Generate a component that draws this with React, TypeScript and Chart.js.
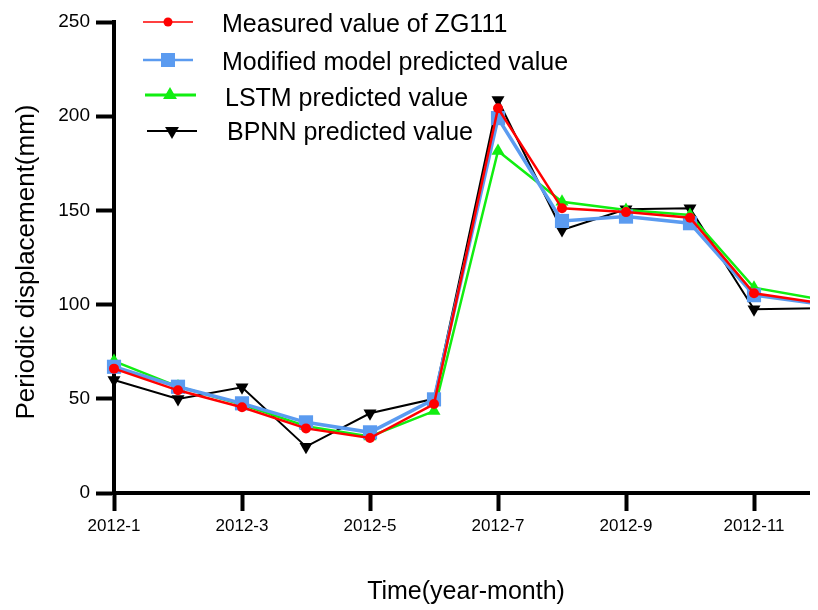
import React, { useEffect, useRef } from 'react';
import { Chart, registerables } from 'chart.js';

Chart.register(...registerables);

const months = ['2012-1', '2012-2', '2012-3', '2012-4', '2012-5', '2012-6', '2012-7', '2012-8', '2012-9', '2012-10', '2012-11', '2012-12'];
const measured = [66, 54.5, 45.5, 34.3, 29.2, 47.2, 204.2, 151.1, 149.1, 146.1, 106, 101];
const modified = [67, 56.4, 47.6, 37.5, 32.2, 49.7, 199, 144.4, 146.7, 143.2, 105, 100.5];
const lstm = [70, 56.5, 47, 35.5, 30, 43.5, 181.5, 154.6, 150.2, 147.6, 109, 103];
const bpnn = [60, 49.9, 56.1, 24.6, 42.3, 50, 208.6, 139.6, 150.6, 151.1, 97.5, 98];

const seriesNames = ['Measured value of ZG111', 'Modified model predicted value', 'LSTM predicted value', 'BPNN predicted value'];
const yTicks = [0, 50, 100, 150, 200, 250];

const FONT = '"Liberation Sans", Arial, Helvetica, sans-serif';

function drawMarker(ctx: CanvasRenderingContext2D, kind: string, x: number, y: number, r: number, color: string) {
  ctx.fillStyle = color;
  ctx.beginPath();
  if (kind === 'circle') {
    ctx.arc(x, y, r, 0, Math.PI * 2);
  } else if (kind === 'rect') {
    ctx.rect(x - r, y - r, 2 * r, 2 * r);
  } else if (kind === 'up') {
    ctx.moveTo(x, y - r);
    ctx.lineTo(x + r * 0.866, y + r * 0.5);
    ctx.lineTo(x - r * 0.866, y + r * 0.5);
  } else {
    ctx.moveTo(x, y + r);
    ctx.lineTo(x + r * 0.866, y - r * 0.5);
    ctx.lineTo(x - r * 0.866, y - r * 0.5);
  }
  ctx.closePath();
  ctx.fill();
}

const overlayPlugin = {
  id: 'overlay',
  afterDraw(chart: any) {
    const ctx: CanvasRenderingContext2D = chart.ctx;
    const area = chart.chartArea;
    ctx.save();
    // legend
    const rows = [
      { y: 14, base: 24, x0: 135, x1: 185, mx: 160, tx: 214, lw: 1.5, kind: 'circle', r: 4.5 },
      { y: 52, base: 62, x0: 135, x1: 185, mx: 160, tx: 214, lw: 2.5, kind: 'rect', r: 7 },
      { y: 87, base: 97.5, x0: 137, x1: 188, mx: 162, tx: 217, lw: 3, kind: 'up', r: 8 },
      { y: 123, base: 132, x0: 139, x1: 189, mx: 164, tx: 219, lw: 2, kind: 'down', r: 8 },
    ];
    rows.forEach((row, i) => {
      const ds = chart.data.datasets[i];
      ctx.strokeStyle = ds.borderColor;
      ctx.lineWidth = row.lw;
      ctx.beginPath();
      ctx.moveTo(row.x0, row.y);
      ctx.lineTo(row.x1, row.y);
      ctx.stroke();
      drawMarker(ctx, row.kind, row.mx, row.y, row.r, ds.borderColor);
      ctx.fillStyle = '#000';
      ctx.font = `25px ${FONT}`;
      ctx.textAlign = 'left';
      ctx.textBaseline = 'alphabetic';
      ctx.fillText(seriesNames[i], row.tx, row.base);
    });
    // axis titles
    ctx.fillStyle = '#000';
    ctx.font = `25px ${FONT}`;
    ctx.textAlign = 'center';
    ctx.textBaseline = 'alphabetic';
    ctx.fillText('Time(year-month)', (area.left + area.right) / 2, 591);
    ctx.font = `26px ${FONT}`;
    ctx.translate(26, 254);
    ctx.rotate(-Math.PI / 2);
    ctx.fillText('Periodic displacement(mm)', 0, 0);
    ctx.restore();
  },
};

export default function App() {
  const ref = useRef<HTMLCanvasElement | null>(null);
  useEffect(() => {
    if (!ref.current) return;
    Chart.defaults.font.family = FONT;
    const chart = new Chart(ref.current, {
      type: 'line',
      data: {
        labels: months,
        datasets: [
          {
            label: seriesNames[0], data: measured, borderColor: '#FF0000', backgroundColor: '#FF0000',
            borderWidth: 2.5, pointStyle: 'circle', pointRadius: 5, pointBorderWidth: 0, tension: 0,
          },
          {
            label: seriesNames[1], data: modified, borderColor: '#5B9BF0', backgroundColor: '#5B9BF0',
            borderWidth: 3.5, pointStyle: 'rect', pointRadius: 10, pointBorderWidth: 0, tension: 0,
          },
          {
            label: seriesNames[2], data: lstm, borderColor: '#11EE11', backgroundColor: '#11EE11',
            borderWidth: 2.5, pointStyle: 'triangle', pointRadius: 7.5, pointBorderWidth: 0, tension: 0,
          },
          {
            label: seriesNames[3], data: bpnn, borderColor: '#000000', backgroundColor: '#000000',
            borderWidth: 2, pointStyle: 'triangle', pointRotation: 180, pointRadius: 7.5, pointBorderWidth: 0, tension: 0,
          },
        ],
      },
      options: {
        animation: false,
        responsive: false,
        devicePixelRatio: 1,
        layout: { autoPadding: false, padding: { top: 14, right: 0, left: 0, bottom: 0 } },
        plugins: { legend: { display: false }, tooltip: { enabled: false } },
        scales: {
          x: {
            type: 'category',
            offset: false,
            afterFit: (s: any) => { s.height = 117; s.paddingLeft = 0; s.paddingRight = 0; },
            grid: {
              drawOnChartArea: false,
              drawTicks: true,
              tickLength: 18,
              tickWidth: 4,
              tickColor: (c: any) => (c.index % 2 === 0 ? '#000' : 'rgba(0,0,0,0)'),
            },
            border: { display: true, color: '#000', width: 4 },
            ticks: {
              autoSkip: false,
              maxRotation: 0,
              padding: 5,
              color: '#000',
              font: { size: 17, family: FONT },
              callback: (_v: any, i: number) => (i % 2 === 0 ? months[i] : ''),
            },
          },
          y: {
            min: yTicks[0],
            max: yTicks[yTicks.length - 1],
            afterFit: (s: any) => { s.width = 106; s.paddingTop = 0; s.paddingBottom = 0; },
            ticks: { stepSize: 50, padding: 6, color: '#000', font: { size: 19, family: FONT } },
            grid: { drawOnChartArea: false, tickLength: 18, tickWidth: 4, tickColor: '#000' },
            border: { display: true, color: '#000', width: 4 },
          },
        },
      },
      plugins: [overlayPlugin],
    } as any);
    return () => chart.destroy();
  }, []);
  return (
    <div style={{ width: 810, height: 602 }}>
      <canvas ref={ref} width={810} height={602} style={{ display: 'block' }} />
    </div>
  );
}
